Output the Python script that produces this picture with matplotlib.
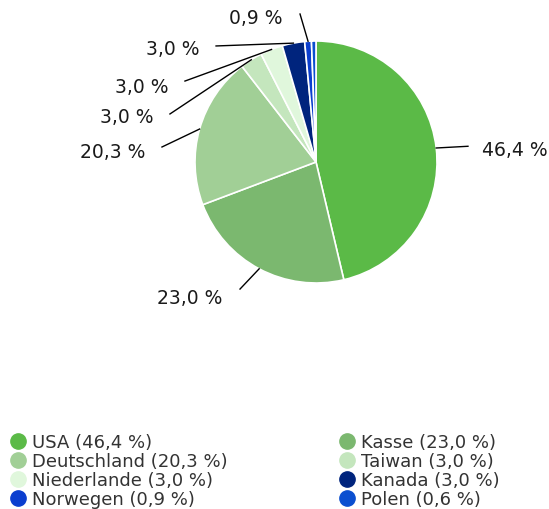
import numpy as np
import matplotlib.pyplot as plt
from matplotlib.lines import Line2D

labels = ["USA", "Kasse", "Deutschland", "Taiwan", "Niederlande", "Kanada", "Norwegen", "Polen"]
values = [46.4, 23.0, 20.3, 3.0, 3.0, 3.0, 0.9, 0.6]
colors = ["#5bba47", "#7bb86f", "#a1cf96", "#c4e6bd", "#e0f7dc", "#00247d", "#0b3ecf", "#0b4fd0"]

# where each slice label sits (leader end x/y, text anchor x/y, ha), None = no label
label_pos = [
    (1.256, 0.13, 1.37, 0.10, "left"),
    (-0.628, -1.05, -0.777, -1.116, "right"),
    (-1.273, 0.124, -1.413, 0.09, "right"),
    (-1.207, 0.397, -1.347, 0.372, "right"),
    (-1.083, 0.669, -1.223, 0.628, "right"),
    (-0.826, 0.959, -0.959, 0.934, "right"),
    (-0.132, 1.223, -0.273, 1.198, "right"),
    None,
]

def fmt(v):
    return f"{v:.1f}".replace(".", ",") + " %"

fig = plt.figure(figsize=(5.49, 5.10), dpi=100)
ax = fig.add_axes([0, 0, 1, 1])

wedges, _ = ax.pie(values, colors=colors, startangle=90, counterclock=False, radius=1,
                   wedgeprops=dict(edgecolor="white", linewidth=1.2))
ax.set_aspect("auto")
ax.set_xlim(-316 / 121, (549 - 316) / 121)
ax.set_ylim(-347 / 121, 163 / 121)
ax.axis("off")

for w, v, pos in zip(wedges, values, label_pos):
    if pos is None:
        continue
    mid = np.deg2rad((w.theta1 + w.theta2) / 2)
    sx, sy = np.cos(mid), np.sin(mid)
    ex, ey, tx, ty, ha = pos
    ax.plot([sx, ex], [sy, ey], color="black", lw=1)
    ax.text(tx, ty, fmt(v), ha=ha, va="center", fontsize=13.5, color="#1a1a1a")

handles = [Line2D([], [], marker="o", ls="", markersize=11, markerfacecolor=c, markeredgecolor=c)
           for c in colors]
texts = [f"{l} ({fmt(v)})" for l, v in zip(labels, values)]
order = [0, 2, 4, 6, 1, 3, 5, 7]
fig.legend([handles[i] for i in order], [texts[i] for i in order], ncol=2,
           loc="lower left", bbox_to_anchor=(0.006, -0.012), frameon=False,
           fontsize=13, labelspacing=0.05, handlelength=0.8, handletextpad=0.4,
           columnspacing=6.2, borderaxespad=0, labelcolor="#333333")

fig.savefig("out.png", dpi=100)
